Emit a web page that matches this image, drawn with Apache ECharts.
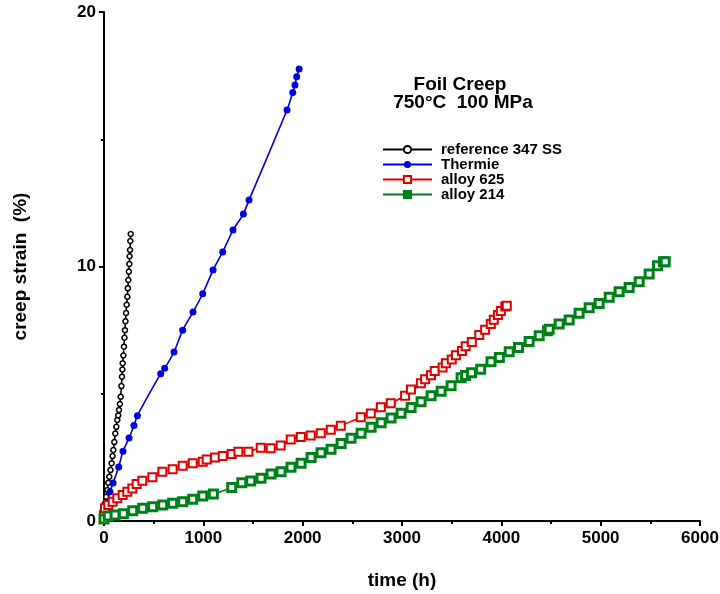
<!DOCTYPE html>
<html>
<head>
<meta charset="utf-8">
<script src="https://cdn.jsdelivr.net/npm/echarts@6/dist/echarts.min.js"></script>
<style>
  html, body { margin: 0; padding: 0; background: #fff; }
  #chart { width: 720px; height: 594px; }
</style>
</head>
<body>
<div id="chart"></div>
<script>
// creep strain (%) vs time (h)
var ref347 = [[0,0.2],[10,0.7],[22,0.95],[33,1.22],[43,1.5],[53,1.74],[65,2.0],[77,2.27],[86,2.55],[94,2.79],
    [104,3.1],[114,3.44],[124,3.7],[134,3.97],[143,4.15],[151,4.36],[160,4.6],[168,4.88],[175,5.3],[181,5.67],
    [185,5.95],[188,6.2],[195,6.5],[201,6.85],[206,7.2],[211,7.5],[216,7.85],[222,8.17],[228,8.5],[235,8.81],
    [240,9.15],[245,9.47],[250,9.8],[255,10.1],[258,10.4],[262,10.65],[265,11.0],[269,11.28]];
var thermie = [[0,0.2],[27,0.69],[60,1.15],[91,1.49],[148,2.12],[191,2.74],[252,3.26],[302,3.75],[336,4.14],
    [571,5.79],[611,6.0],[705,6.64],[792,7.5],[896,8.21],[994,8.93],[1098,9.86],[1195,10.57],[1299,11.43],
    [1403,12.06],[1460,12.61],[1843,16.15],[1900,16.84],[1923,17.13],[1940,17.46],[1964,17.76]];
var alloy625 = [[0,0.25],[10,0.5],[43,0.63],[87,0.76],[134,0.89],[188,1.02],[235,1.15],[285,1.28],[329,1.45],
    [386,1.58],[487,1.72],[587,1.94],[691,2.03],[792,2.17],[893,2.27],[994,2.33],[1034,2.42],[1118,2.5],
    [1195,2.55],[1286,2.63],[1353,2.72],[1454,2.72],[1578,2.88],[1678,2.86],[1779,2.97],[1880,3.2],[1981,3.3],
    [2081,3.36],[2182,3.45],[2283,3.59],[2384,3.74],[2585,4.08],[2686,4.22],[2787,4.47],[2887,4.63],[3031,4.92],
    [3090,5.17],[3190,5.41],[3233,5.57],[3292,5.73],[3330,5.89],[3409,6.03],[3442,6.2],[3501,6.35],[3543,6.51],
    [3604,6.68],[3641,6.87],[3703,7.03],[3778,7.31],[3837,7.51],[3894,7.74],[3924,7.91],[3966,8.09],[3995,8.25],
    [4040,8.43],[4055,8.46]];
var alloy214 = [[0,0.08],[43,0.2],[111,0.24],[195,0.28],[289,0.4],[389,0.5],[490,0.56],[591,0.63],[691,0.7],
    [792,0.76],[893,0.85],[994,0.98],[1101,1.06],[1286,1.32],[1387,1.5],[1477,1.57],[1581,1.68],[1682,1.85],
    [1782,1.94],[1883,2.11],[1984,2.27],[2085,2.5],[2185,2.68],[2286,2.82],[2387,3.05],[2487,3.25],[2588,3.45],
    [2689,3.68],[2790,3.86],[2890,4.05],[2991,4.23],[3092,4.46],[3192,4.69],[3293,4.92],[3394,5.1],[3494,5.31],
    [3595,5.63],[3640,5.72],[3700,5.83],[3792,5.96],[3896,6.26],[3980,6.42],[4079,6.65],[4173,6.82],[4280,7.05],
    [4381,7.28],[4465,7.48],[4482,7.53],[4582,7.74],[4683,7.9],[4783,8.16],[4884,8.38],[4985,8.55],[5086,8.79],
    [5186,9.01],[5287,9.17],[5388,9.4],[5488,9.71],[5572,10.03],[5632,10.19],[5650,10.19]];
var seriesNames = ["reference 347 SS", "Thermie", "alloy 625", "alloy 214"];
var titleLines = ["Foil Creep", "750°C  100 MPa"];

var FONT = "Liberation Sans, Arial, sans-serif";
var chart = echarts.init(document.getElementById("chart"));

function lineSeries(name, data, color, symbol, size, fill, bw){
    return {
        name: name,
        type: "line",
        data: data,
        smooth: 0.2,
        symbol: symbol,
        symbolSize: size,
        showAllSymbol: true,
        lineStyle: {color: color, width: 1.6},
        itemStyle: {color: fill, borderColor: color, borderWidth: bw},
        emphasis: {disabled: true}
    };
}

chart.setOption({
    animation: false,
    textStyle: {fontFamily: FONT},
    grid: {left: 104, right: 20, top: 12, bottom: 73, outerBoundsMode: "none"},
    graphic: [
        {type: "text", x: 460, y: 85, style: {text: titleLines[0], font: "bold 19px " + FONT, fill: "#000", textAlign: "center", textVerticalAlign: "middle"}},
        {type: "text", x: 463, y: 103, style: {text: titleLines[1], font: "bold 19px " + FONT, fill: "#000", textAlign: "center", textVerticalAlign: "middle"}}
    ],
    legend: {
        orient: "vertical",
        left: 377,
        top: 137,
        itemWidth: 49,
        itemHeight: 9,
        itemGap: 0,
        data: [
            {name: seriesNames[0]},
            {name: seriesNames[1]},
            {name: seriesNames[2]},
            {name: seriesNames[3], itemStyle: {color: "#00801a"}}
        ],
        textStyle: {fontSize: 15, fontWeight: "bold", color: "#000", lineHeight: 13, padding: [0, 0, 0, 4]}
    },
    xAxis: {
        type: "value",
        min: 0, max: 6000, interval: 1000,
        name: "time (h)",
        nameLocation: "middle",
        nameGap: 50,
        nameTextStyle: {fontSize: 19, fontWeight: "bold", color: "#000"},
        axisLine: {lineStyle: {color: "#000", width: 2}},
        axisTick: {length: 5, lineStyle: {width: 2}},
        minorTick: {show: true, splitNumber: 2, length: 3, lineStyle: {color: "#000", width: 2}},
        axisLabel: {fontSize: 17, fontWeight: "bold", color: "#000", margin: 9, formatter: function(v){ return String(v); }},
        splitLine: {show: false}
    },
    yAxis: {
        type: "value",
        min: 0, max: 20, interval: 10,
        name: "creep strain  (%)",
        nameLocation: "middle",
        nameGap: 74,
        nameTextStyle: {fontSize: 19, fontWeight: "bold", color: "#000"},
        axisLine: {show: true, lineStyle: {color: "#000", width: 2}},
        axisTick: {show: true, length: 5, lineStyle: {width: 2}},
        minorTick: {show: true, splitNumber: 2, length: 3, lineStyle: {color: "#000", width: 2}},
        axisLabel: {fontSize: 17, fontWeight: "bold", color: "#000", margin: 8},
        splitLine: {show: false}
    },
    series: [
        lineSeries(seriesNames[0], ref347, "#000000", "circle", 5, "#ffffff", 1.5),
        lineSeries(seriesNames[1], thermie, "#0000dd", "circle", 7, "#0000dd", 0),
        lineSeries(seriesNames[2], alloy625, "#dd0000", "rect", 8, "#ffffff", 2),
        lineSeries(seriesNames[3], alloy214, "#00801a", "rect", 8, "#ffffff", 3)
    ]
});
</script>
</body>
</html>
